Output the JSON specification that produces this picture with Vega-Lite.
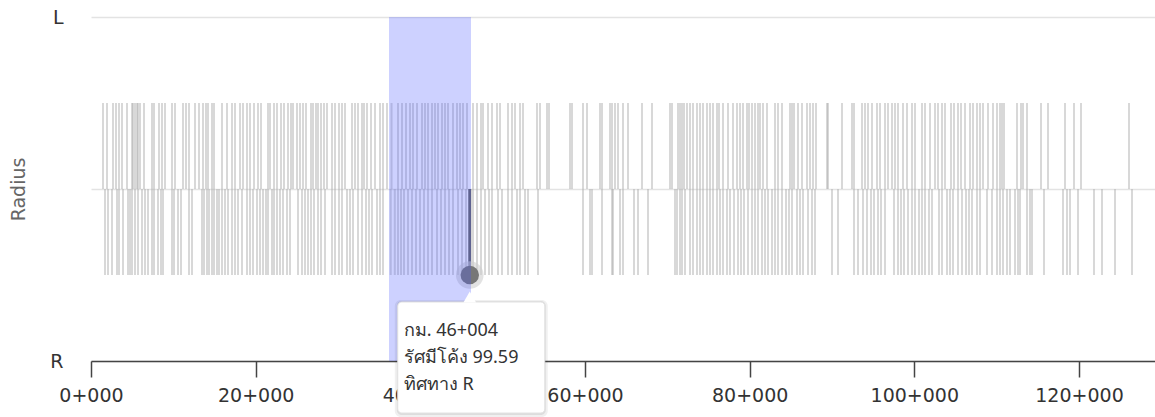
{
"$schema":"https://vega.github.io/schema/vega-lite/v6.json",
"width":1064,"height":344,
"autosize":{"type":"none"},
"padding":{"left":91,"top":17,"right":0,"bottom":56},
"background":"white",
"config":{"view":{"stroke":null},"font":"DejaVu Sans"},
"datasets":{
"curves":[
{"km":1458,"dir":"L"},{"km":1943,"dir":"L"},{"km":2672,"dir":"L"},{"km":3037,"dir":"L"},{"km":3401,"dir":"L"},{"km":3765,"dir":"L"},{"km":4373,"dir":"L"},{"km":4980,"dir":"L"},{"km":5101,"dir":"L"},{"km":5344,"dir":"L"},{"km":5587,"dir":"L"},{"km":5709,"dir":"L"},{"km":5952,"dir":"L"},{"km":6437,"dir":"L"},{"km":7409,"dir":"L"},{"km":7652,"dir":"L"},{"km":8259,"dir":"L"},{"km":8624,"dir":"L"},{"km":8988,"dir":"L"},{"km":9838,"dir":"L"},{"km":10203,"dir":"L"},{"km":11174,"dir":"L"},{"km":11539,"dir":"L"},{"km":11903,"dir":"L"},{"km":12632,"dir":"L"},{"km":13118,"dir":"L"},{"km":13604,"dir":"L"},{"km":13968,"dir":"L"},{"km":14211,"dir":"L"},{"km":14697,"dir":"L"},{"km":14940,"dir":"L"},{"km":15911,"dir":"L"},{"km":16519,"dir":"L"},{"km":17126,"dir":"L"},{"km":17490,"dir":"L"},{"km":18098,"dir":"L"},{"km":18462,"dir":"L"},
{"km":18948,"dir":"L"},{"km":19312,"dir":"L"},{"km":19798,"dir":"L"},{"km":20284,"dir":"L"},{"km":20648,"dir":"L"},{"km":21498,"dir":"L"},{"km":21741,"dir":"L"},{"km":22227,"dir":"L"},{"km":22592,"dir":"L"},{"km":23077,"dir":"L"},{"km":23442,"dir":"L"},{"km":23928,"dir":"L"},{"km":24292,"dir":"L"},{"km":24535,"dir":"L"},{"km":25021,"dir":"L"},{"km":25385,"dir":"L"},{"km":25750,"dir":"L"},{"km":26114,"dir":"L"},{"km":26721,"dir":"L"},{"km":26964,"dir":"L"},{"km":27329,"dir":"L"},{"km":27571,"dir":"L"},{"km":27936,"dir":"L"},{"km":28300,"dir":"L"},{"km":28665,"dir":"L"},{"km":29272,"dir":"L"},{"km":29636,"dir":"L"},{"km":30122,"dir":"L"},{"km":30486,"dir":"L"},{"km":30851,"dir":"L"},{"km":31701,"dir":"L"},{"km":32065,"dir":"L"},{"km":32430,"dir":"L"},{"km":32916,"dir":"L"},{"km":33159,"dir":"L"},{"km":33523,"dir":"L"},{"km":34009,"dir":"L"},{"km":34495,"dir":"L"},{"km":35102,"dir":"L"},{"km":35466,"dir":"L"},{"km":35952,"dir":"L"},{"km":36500,"dir":"L"},
{"km":37288,"dir":"L"},{"km":37774,"dir":"L"},{"km":38260,"dir":"L"},{"km":38746,"dir":"L"},{"km":39110,"dir":"L"},{"km":39596,"dir":"L"},{"km":40203,"dir":"L"},{"km":40568,"dir":"L"},{"km":40932,"dir":"L"},{"km":41418,"dir":"L"},{"km":41782,"dir":"L"},{"km":42147,"dir":"L"},{"km":42632,"dir":"L"},{"km":42997,"dir":"L"},{"km":43361,"dir":"L"},{"km":43969,"dir":"L"},{"km":44454,"dir":"L"},{"km":44819,"dir":"L"},{"km":45183,"dir":"L"},{"km":45669,"dir":"L"},
{"km":46398,"dir":"L"},{"km":46884,"dir":"L"},{"km":47369,"dir":"L"},{"km":47612,"dir":"L"},{"km":48220,"dir":"L"},{"km":48705,"dir":"L"},{"km":49313,"dir":"L"},{"km":49677,"dir":"L"},{"km":50649,"dir":"L"},{"km":51135,"dir":"L"},{"km":51499,"dir":"L"},{"km":52106,"dir":"L"},{"km":52471,"dir":"L"},{"km":54171,"dir":"L"},{"km":54536,"dir":"L"},
{"km":55386,"dir":"L"},{"km":55629,"dir":"L"},{"km":58179,"dir":"L"},{"km":58422,"dir":"L"},{"km":59758,"dir":"L"},{"km":60244,"dir":"L"},{"km":61823,"dir":"L"},{"km":62066,"dir":"L"},{"km":63038,"dir":"L"},{"km":63281,"dir":"L"},{"km":63645,"dir":"L"},{"km":64009,"dir":"L"},{"km":64617,"dir":"L"},{"km":65224,"dir":"L"},{"km":66924,"dir":"L"},{"km":68139,"dir":"L"},{"km":70325,"dir":"L"},{"km":70568,"dir":"L"},{"km":71297,"dir":"L"},{"km":71540,"dir":"L"},{"km":71783,"dir":"L"},{"km":72026,"dir":"L"},{"km":72390,"dir":"L"},{"km":72755,"dir":"L"},{"km":73119,"dir":"L"},
{"km":73605,"dir":"L"},{"km":73969,"dir":"L"},{"km":74334,"dir":"L"},{"km":74820,"dir":"L"},{"km":75184,"dir":"L"},{"km":75548,"dir":"L"},{"km":76034,"dir":"L"},{"km":76277,"dir":"L"},{"km":76763,"dir":"L"},{"km":77370,"dir":"L"},{"km":77977,"dir":"L"},{"km":78463,"dir":"L"},{"km":78828,"dir":"L"},{"km":79192,"dir":"L"},{"km":79678,"dir":"L"},{"km":79921,"dir":"L"},{"km":80285,"dir":"L"},{"km":80649,"dir":"L"},{"km":81014,"dir":"L"},{"km":81257,"dir":"L"},{"km":81621,"dir":"L"},{"km":82107,"dir":"L"},{"km":83079,"dir":"L"},{"km":83443,"dir":"L"},{"km":83929,"dir":"L"},{"km":84901,"dir":"L"},{"km":85143,"dir":"L"},{"km":85386,"dir":"L"},{"km":85872,"dir":"L"},{"km":86358,"dir":"L"},{"km":86965,"dir":"L"},{"km":87330,"dir":"L"},{"km":87694,"dir":"L"},{"km":88059,"dir":"L"},{"km":89395,"dir":"L"},{"km":89516,"dir":"L"},{"km":91216,"dir":"L"},
{"km":92431,"dir":"L"},{"km":92674,"dir":"L"},{"km":93646,"dir":"L"},{"km":94010,"dir":"L"},{"km":94374,"dir":"L"},{"km":94860,"dir":"L"},{"km":95468,"dir":"L"},{"km":95832,"dir":"L"},{"km":96439,"dir":"L"},{"km":96804,"dir":"L"},{"km":97289,"dir":"L"},{"km":97654,"dir":"L"},{"km":98018,"dir":"L"},{"km":98626,"dir":"L"},{"km":99111,"dir":"L"},{"km":99719,"dir":"L"},{"km":100083,"dir":"L"},{"km":100933,"dir":"L"},{"km":101298,"dir":"L"},{"km":101905,"dir":"L"},{"km":102512,"dir":"L"},{"km":102877,"dir":"L"},{"km":103362,"dir":"L"},{"km":103727,"dir":"L"},{"km":104456,"dir":"L"},{"km":104820,"dir":"L"},{"km":105306,"dir":"L"},{"km":105670,"dir":"L"},{"km":106156,"dir":"L"},{"km":106763,"dir":"L"},{"km":107128,"dir":"L"},{"km":107614,"dir":"L"},{"km":107978,"dir":"L"},{"km":108342,"dir":"L"},{"km":108950,"dir":"L"},{"km":109557,"dir":"L"},
{"km":110043,"dir":"L"},{"km":110407,"dir":"L"},{"km":110650,"dir":"L"},{"km":110893,"dir":"L"},{"km":112472,"dir":"L"},{"km":112958,"dir":"L"},{"km":113201,"dir":"L"},{"km":113687,"dir":"L"},{"km":115387,"dir":"L"},{"km":116237,"dir":"L"},{"km":118302,"dir":"L"},{"km":119395,"dir":"L"},{"km":120245,"dir":"L"},{"km":126075,"dir":"L"},
{"km":1700,"dir":"R"},{"km":2065,"dir":"R"},{"km":2551,"dir":"R"},{"km":3158,"dir":"R"},{"km":3401,"dir":"R"},{"km":3887,"dir":"R"},{"km":4494,"dir":"R"},{"km":4737,"dir":"R"},{"km":4980,"dir":"R"},{"km":5344,"dir":"R"},{"km":5709,"dir":"R"},{"km":6194,"dir":"R"},{"km":6559,"dir":"R"},{"km":6923,"dir":"R"},{"km":7409,"dir":"R"},{"km":7652,"dir":"R"},{"km":8138,"dir":"R"},{"km":8502,"dir":"R"},{"km":8745,"dir":"R"},{"km":9838,"dir":"R"},{"km":10081,"dir":"R"},{"km":10567,"dir":"R"},{"km":10931,"dir":"R"},{"km":11903,"dir":"R"},{"km":12267,"dir":"R"},{"km":13482,"dir":"R"},{"km":13725,"dir":"R"},{"km":14089,"dir":"R"},{"km":14332,"dir":"R"},{"km":14697,"dir":"R"},{"km":14940,"dir":"R"},{"km":15304,"dir":"R"},{"km":15547,"dir":"R"},{"km":15911,"dir":"R"},{"km":16276,"dir":"R"},{"km":16640,"dir":"R"},{"km":17126,"dir":"R"},{"km":17490,"dir":"R"},{"km":17855,"dir":"R"},{"km":18340,"dir":"R"},
{"km":18948,"dir":"R"},{"km":19312,"dir":"R"},{"km":19677,"dir":"R"},{"km":20162,"dir":"R"},{"km":20527,"dir":"R"},{"km":20891,"dir":"R"},{"km":21256,"dir":"R"},{"km":21498,"dir":"R"},{"km":21984,"dir":"R"},{"km":22227,"dir":"R"},{"km":22592,"dir":"R"},{"km":22956,"dir":"R"},{"km":23320,"dir":"R"},{"km":23806,"dir":"R"},{"km":24171,"dir":"R"},{"km":25142,"dir":"R"},{"km":25628,"dir":"R"},{"km":25992,"dir":"R"},{"km":26357,"dir":"R"},{"km":26721,"dir":"R"},{"km":27086,"dir":"R"},{"km":27571,"dir":"R"},{"km":27936,"dir":"R"},{"km":28422,"dir":"R"},{"km":29272,"dir":"R"},{"km":29636,"dir":"R"},{"km":30122,"dir":"R"},{"km":30486,"dir":"R"},{"km":31094,"dir":"R"},{"km":31458,"dir":"R"},{"km":31823,"dir":"R"},{"km":32430,"dir":"R"},{"km":32916,"dir":"R"},{"km":33402,"dir":"R"},{"km":33766,"dir":"R"},{"km":34130,"dir":"R"},{"km":34738,"dir":"R"},{"km":35102,"dir":"R"},{"km":35466,"dir":"R"},{"km":36400,"dir":"R"},{"km":36900,"dir":"R"},
{"km":37288,"dir":"R"},{"km":37653,"dir":"R"},{"km":38017,"dir":"R"},{"km":38503,"dir":"R"},{"km":38989,"dir":"R"},{"km":39475,"dir":"R"},{"km":39960,"dir":"R"},{"km":40446,"dir":"R"},{"km":40932,"dir":"R"},{"km":41418,"dir":"R"},{"km":42025,"dir":"R"},{"km":42511,"dir":"R"},{"km":42997,"dir":"R"},{"km":43483,"dir":"R"},{"km":43969,"dir":"R"},{"km":44576,"dir":"R"},{"km":45062,"dir":"R"},{"km":45548,"dir":"R"},
{"km":46398,"dir":"R"},{"km":46884,"dir":"R"},{"km":47369,"dir":"R"},{"km":47855,"dir":"R"},{"km":48341,"dir":"R"},{"km":48705,"dir":"R"},{"km":49434,"dir":"R"},{"km":49920,"dir":"R"},{"km":50649,"dir":"R"},{"km":51135,"dir":"R"},{"km":51742,"dir":"R"},{"km":52106,"dir":"R"},{"km":52714,"dir":"R"},{"km":53078,"dir":"R"},{"km":54293,"dir":"R"},
{"km":59758,"dir":"R"},{"km":60609,"dir":"R"},{"km":60851,"dir":"R"},{"km":62066,"dir":"R"},{"km":63281,"dir":"R"},{"km":63402,"dir":"R"},{"km":64252,"dir":"R"},{"km":64617,"dir":"R"},{"km":65953,"dir":"R"},{"km":66439,"dir":"R"},{"km":67653,"dir":"R"},{"km":70933,"dir":"R"},{"km":71176,"dir":"R"},{"km":71540,"dir":"R"},{"km":71783,"dir":"R"},{"km":72147,"dir":"R"},{"km":72755,"dir":"R"},{"km":73119,"dir":"R"},
{"km":73605,"dir":"R"},{"km":73969,"dir":"R"},{"km":74334,"dir":"R"},{"km":74820,"dir":"R"},{"km":75184,"dir":"R"},{"km":75548,"dir":"R"},{"km":76034,"dir":"R"},{"km":76398,"dir":"R"},{"km":76763,"dir":"R"},{"km":77249,"dir":"R"},{"km":77613,"dir":"R"},{"km":78099,"dir":"R"},{"km":78585,"dir":"R"},{"km":78949,"dir":"R"},{"km":79313,"dir":"R"},{"km":79799,"dir":"R"},{"km":80285,"dir":"R"},{"km":80649,"dir":"R"},{"km":81014,"dir":"R"},{"km":81500,"dir":"R"},{"km":81864,"dir":"R"},{"km":82228,"dir":"R"},{"km":82714,"dir":"R"},{"km":83079,"dir":"R"},{"km":83443,"dir":"R"},{"km":83929,"dir":"R"},{"km":84415,"dir":"R"},{"km":84779,"dir":"R"},{"km":85143,"dir":"R"},{"km":85751,"dir":"R"},{"km":86115,"dir":"R"},{"km":86480,"dir":"R"},{"km":87087,"dir":"R"},{"km":87573,"dir":"R"},{"km":87937,"dir":"R"},{"km":90003,"dir":"R"},{"km":90731,"dir":"R"},
{"km":92674,"dir":"R"},{"km":93160,"dir":"R"},{"km":93767,"dir":"R"},{"km":94253,"dir":"R"},{"km":94739,"dir":"R"},{"km":95103,"dir":"R"},{"km":95589,"dir":"R"},{"km":95953,"dir":"R"},{"km":96439,"dir":"R"},{"km":97532,"dir":"R"},{"km":98018,"dir":"R"},{"km":98383,"dir":"R"},{"km":98747,"dir":"R"},{"km":99233,"dir":"R"},{"km":99719,"dir":"R"},{"km":100083,"dir":"R"},{"km":100569,"dir":"R"},{"km":100933,"dir":"R"},{"km":101298,"dir":"R"},{"km":101783,"dir":"R"},{"km":102148,"dir":"R"},{"km":102998,"dir":"R"},{"km":103362,"dir":"R"},{"km":103970,"dir":"R"},{"km":104334,"dir":"R"},{"km":104699,"dir":"R"},{"km":105306,"dir":"R"},{"km":105792,"dir":"R"},{"km":106278,"dir":"R"},{"km":106642,"dir":"R"},{"km":107006,"dir":"R"},{"km":107614,"dir":"R"},{"km":107978,"dir":"R"},{"km":108828,"dir":"R"},{"km":109435,"dir":"R"},
{"km":110043,"dir":"R"},{"km":110407,"dir":"R"},{"km":110772,"dir":"R"},{"km":111257,"dir":"R"},{"km":111622,"dir":"R"},{"km":112229,"dir":"R"},{"km":112593,"dir":"R"},{"km":112836,"dir":"R"},{"km":113687,"dir":"R"},{"km":114051,"dir":"R"},{"km":114294,"dir":"R"},{"km":115751,"dir":"R"},{"km":118059,"dir":"R"},{"km":118545,"dir":"R"},{"km":118909,"dir":"R"},{"km":119881,"dir":"R"},{"km":121824,"dir":"R"},{"km":122796,"dir":"R"},{"km":124375,"dir":"R"},{"km":126440,"dir":"R"}
],
"sel":[{"km":46004,"radius":99.59,"dir":"R"}],
"band":[{"start":36195,"end":46155}]
},
"layer":[
{"data":{"name":"curves"},
 "transform":[{"calculate":"datum.dir === 'L' ? 1 : -1","as":"s"}],
 "mark":{"type":"rule","color":"#a8a8a8","opacity":0.45,"strokeWidth":2},
 "encoding":{
  "x":{"field":"km","type":"quantitative","scale":{"domain":[0,129233],"nice":false,"zero":false},
   "axis":{"title":null,"values":[0,20000,40000,60000,80000,100000,120000],
    "labelExpr":"floor(datum.value/1000) + '+' + pad(toString(datum.value % 1000), 3, '0', 'left')",
    "domainColor":"#444","domainWidth":1.5,"tickColor":"#444","tickWidth":1.5,"tickSize":16,
    "labelPadding":9,"labelFontSize":19,"labelColor":"#333","grid":false,"labelFlush":false,"labelOverlap":false}},
  "y":{"field":"s","type":"quantitative","scale":{"domain":[-2,2],"nice":false,"zero":false},
   "axis":{"title":"Radius","values":[-2,0,2],
    "labelExpr":"datum.value > 0 ? 'L' : (datum.value < 0 ? 'R' : '')",
    "domain":false,"ticks":false,"labelPadding":28,"labelFontSize":19,"labelColor":"#333",
    "grid":true,"gridColor":"#e3e3e3","gridWidth":1.5,
    "titleColor":"#666","titleFontSize":19,"titleFontWeight":"normal","titleX":-73,"titleY":172,
    "titleAngle":-90,"titleAlign":"center","titleBaseline":"middle"}},
  "y2":{"datum":0}
 }},
{"data":{"name":"sel"},
 "transform":[{"calculate":"datum.dir === 'L' ? 1 : -1","as":"s"}],
 "mark":{"type":"rule","color":"#666","strokeWidth":3},
 "encoding":{"x":{"field":"km","type":"quantitative"},"y":{"field":"s","type":"quantitative"},"y2":{"datum":0}}},
{"data":{"name":"sel"},
 "transform":[{"calculate":"datum.dir === 'L' ? 1 : -1","as":"s"}],
 "mark":{"type":"point","filled":true,"size":760,"color":"#cfcfcf","opacity":0.6},
 "encoding":{"x":{"field":"km","type":"quantitative"},"y":{"field":"s","type":"quantitative"}}},
{"data":{"name":"sel"},
 "transform":[{"calculate":"datum.dir === 'L' ? 1 : -1","as":"s"}],
 "mark":{"type":"point","filled":true,"size":340,"color":"#777","opacity":1},
 "encoding":{"x":{"field":"km","type":"quantitative"},"y":{"field":"s","type":"quantitative"}}},
{"data":{"name":"band"},
 "mark":{"type":"rect","color":"#4b5bff","opacity":0.28},
 "encoding":{"x":{"field":"start","type":"quantitative"},"x2":{"field":"end"}}},
{"data":{"name":"sel"},
 "transform":[{"calculate":"datum.dir === 'L' ? 1 : -1","as":"s"}],
 "mark":{"type":"rect","color":"#000","opacity":0.06,"cornerRadius":6,"xOffset":-75,"x2Offset":78,"yOffset":25,"y2Offset":142},
 "encoding":{"x":{"field":"km","type":"quantitative"},"x2":{"field":"km"},"y":{"field":"s","type":"quantitative"},"y2":{"field":"s"}}},
{"data":{"name":"sel"},
 "transform":[{"calculate":"datum.dir === 'L' ? 1 : -1","as":"s"}],
 "mark":{"type":"rect","color":"#000","opacity":0.08,"cornerRadius":5,"xOffset":-73,"x2Offset":76,"yOffset":26,"y2Offset":140},
 "encoding":{"x":{"field":"km","type":"quantitative"},"x2":{"field":"km"},"y":{"field":"s","type":"quantitative"},"y2":{"field":"s"}}},
{"data":{"name":"sel"},
 "transform":[{"calculate":"datum.dir === 'L' ? 1 : -1","as":"s"}],
 "mark":{"type":"rect","fill":"white","stroke":"#e2e2e2","strokeWidth":1,"cornerRadius":4,"xOffset":-72,"x2Offset":75,"yOffset":27,"y2Offset":138},
 "encoding":{"x":{"field":"km","type":"quantitative"},"x2":{"field":"km"},"y":{"field":"s","type":"quantitative"},"y2":{"field":"s"}}},
{"data":{"name":"sel"},
 "transform":[{"calculate":"datum.dir === 'L' ? 1 : -1","as":"s"}],
 "mark":{"type":"point","shape":"triangle-up","filled":true,"color":"white","opacity":1,"size":160,"yOffset":22},
 "encoding":{"x":{"field":"km","type":"quantitative"},"y":{"field":"s","type":"quantitative"}}},
{"data":{"name":"sel"},
 "transform":[{"calculate":"datum.dir === 'L' ? 1 : -1","as":"s"},
  {"calculate":"['กม. ' + floor(datum.km/1000) + '+' + pad(toString(datum.km % 1000), 3, '0', 'left'), 'รัศมีโค้ง ' + format(datum.radius, '.2f'), 'ทิศทาง ' + datum.dir]","as":"label"}],
 "mark":{"type":"text","align":"left","baseline":"middle","dx":-66,"dy":56,"lineHeight":27,"fontSize":18,"font":"Noto Sans","color":"#333"},
 "encoding":{"x":{"field":"km","type":"quantitative"},"y":{"field":"s","type":"quantitative"},"text":{"field":"label"}}}
]
}
